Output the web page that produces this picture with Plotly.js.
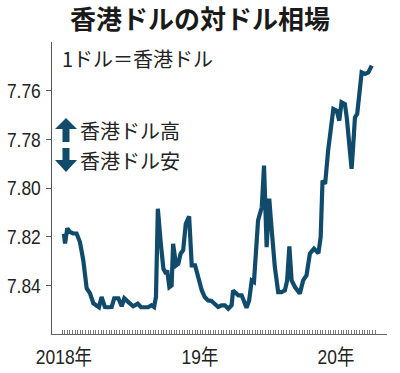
<!DOCTYPE html>
<html><head><meta charset="utf-8">
<script src="https://cdn.plot.ly/plotly-3.0.1.min.js"></script>
<style>html,body{margin:0;padding:0;background:#fff;}#chart{width:400px;height:373px;}</style>
</head><body><div id="chart"></div>
<script>
const dates = ['2018-01-01','2018-01-04','2018-01-10','2018-01-17','2018-01-26','2018-02-04','2018-02-13','2018-02-22','2018-03-03','2018-03-12','2018-03-21','2018-03-30','2018-04-05','2018-04-12','2018-04-21','2018-04-30','2018-05-09','2018-05-16','2018-05-27','2018-06-05','2018-06-12','2018-06-23','2018-07-06','2018-07-18','2018-07-27','2018-08-06','2018-08-15','2018-08-24','2018-08-31','2018-09-05','2018-09-10','2018-09-18','2018-09-25','2018-10-02','2018-10-05','2018-10-11','2018-10-17','2018-10-21','2018-10-29','2018-11-04','2018-11-10','2018-11-17','2018-11-24','2018-12-03','2018-12-10','2018-12-19','2018-12-27','2019-01-06','2019-01-14','2019-01-23','2019-02-01','2019-02-10','2019-02-19','2019-02-28','2019-03-09','2019-03-18','2019-03-27','2019-03-31','2019-04-08','2019-04-14','2019-04-23','2019-04-28','2019-05-06','2019-05-13','2019-05-20','2019-05-26','2019-05-31','2019-06-06','2019-06-16','2019-06-22','2019-06-29','2019-07-06','2019-07-12','2019-07-21','2019-07-30','2019-08-08','2019-08-17','2019-08-23','2019-08-29','2019-09-04','2019-09-13','2019-09-26','2019-10-05','2019-10-14','2019-10-23','2019-11-03','2019-11-15','2019-11-21','2019-11-26','2019-12-03','2019-12-11','2019-12-25','2020-01-03','2020-01-10','2020-01-16','2020-01-25','2020-01-30','2020-02-06','2020-02-12','2020-02-16','2020-02-21','2020-02-27','2020-03-04','2020-03-10','2020-03-19','2020-03-28','2020-04-06'];
const rates = [7.8188,7.8228,7.8166,7.8181,7.8187,7.8187,7.8222,7.8297,7.8412,7.8433,7.8474,7.8482,7.8490,7.8448,7.8489,7.8490,7.8489,7.8453,7.8453,7.8486,7.8453,7.8469,7.8486,7.8475,7.8490,7.8490,7.8490,7.8482,7.8489,7.8448,7.8085,7.8229,7.8332,7.8352,7.8338,7.8407,7.8400,7.8229,7.8318,7.8311,7.8270,7.8256,7.8147,7.8117,7.8318,7.8318,7.8366,7.8421,7.8448,7.8462,7.8464,7.8475,7.8489,7.8482,7.8482,7.8496,7.8482,7.8421,7.8434,7.8441,7.8441,7.8462,7.8492,7.8462,7.8380,7.8386,7.8243,7.8133,7.8079,7.7908,7.8243,7.8044,7.8161,7.8325,7.8428,7.8428,7.8421,7.8380,7.8240,7.8380,7.8407,7.8434,7.8380,7.8359,7.8270,7.8249,7.8268,7.8202,7.7969,7.7983,7.7846,7.7675,7.7682,7.7723,7.7648,7.7655,7.7710,7.7846,7.7921,7.7833,7.7710,7.7696,7.7600,7.7525,7.7531,7.7525,7.7497];

const xLabelDates = ['2018-01-01','2019-01-01','2020-01-01'];
const xLabels = ['2018年','19年','20年'];
const yTicks = [7.76,7.78,7.80,7.82,7.84];
const yLabels = ['7.76','7.78','7.80','7.82','7.84'];

// weekly axis tick marks (axis decoration only)
const weekTicks = [];
for (let t = Date.UTC(2017,11,27); t <= Date.UTC(2020,3,15); t += 7*86400000) {
  weekTicks.push(new Date(t).toISOString().slice(0,10));
}

const W=400,H=373,L=52,R=13,T=42,B=39;
const pw=W-L-R, ph=H-T-B;
function px(x){return ((x-L)/pw).toFixed(4);}
function py(y){return ((H-B-y)/ph).toFixed(4);}
function pathFrom(pts){return 'M '+pts.map(p=>px(p[0])+' '+py(p[1])).join(' L ')+' Z';}
const up = [[66,118],[77,129],[69.5,129],[69.5,142],[62.5,142],[62.5,129],[55,129]];
const dn = [[66,172],[77,160],[69.5,160],[69.5,148],[62.5,148],[62.5,160],[55,160]];
const lineCol = '#104b6c';
const tickFam = '"Liberation Sans", "Noto Sans CJK JP", sans-serif';
const jp = '"Noto Sans CJK JP", sans-serif';

const trace = {x: dates, y: rates, type:'scatter', mode:'lines',
  line:{color:lineCol, width:4.2}, hoverinfo:'skip'};

const layout = {
  width:W, height:H, margin:{l:L,r:R,t:T,b:B,pad:0},
  paper_bgcolor:'#fff', plot_bgcolor:'#fff', showlegend:false,
  title:{text:'<b>香港ドルの対ドル相場</b>', x:0.5, xanchor:'center', y:1-20/H, yanchor:'middle',
    font:{family:jp, size:26, color:'#1a1a1a'}},
  xaxis:{type:'date', range:['2017-11-30','2020-05-17'], tickmode:'array', tickvals:xLabelDates, ticktext:xLabels,
    ticks:'', showgrid:false, zeroline:false,
    minor:{tickmode:'array', tickvals:weekTicks, ticks:'inside', ticklen:4, tickwidth:1, tickcolor:'#777', showgrid:false},
    showline:true, linecolor:'#666', linewidth:1, tickangle:0, ticklabelstandoff:4,
    tickfont:{family:tickFam, size:21, color:'#222'}},
  yaxis:{range:[7.86,7.74], tickmode:'array', tickvals:yTicks, ticktext:yLabels,
    ticks:'outside', ticklen:5, tickwidth:1, tickcolor:'#555', showgrid:false, zeroline:false,
    showline:true, linecolor:'#555', linewidth:1, ticklabelstandoff:1,
    tickfont:{family:tickFam, size:21, color:'#222'}},
  shapes:[
    {type:'path', xref:'paper', yref:'paper', path:pathFrom(up), fillcolor:lineCol, line:{width:0}},
    {type:'path', xref:'paper', yref:'paper', path:pathFrom(dn), fillcolor:lineCol, line:{width:0}}
  ],
  annotations:[
    {xref:'paper', yref:'paper', x:(60-L)/pw, y:(H-B-58)/ph, xanchor:'left', yanchor:'middle',
     text:'1ドル＝香港ドル', showarrow:false, font:{family:jp, size:20, color:'#222'}},
    {xref:'paper', yref:'paper', x:(78-L)/pw, y:(H-B-130)/ph, xanchor:'left', yanchor:'middle',
     text:'香港ドル高', showarrow:false, font:{family:jp, size:20, color:'#222'}},
    {xref:'paper', yref:'paper', x:(78-L)/pw, y:(H-B-160)/ph, xanchor:'left', yanchor:'middle',
     text:'香港ドル安', showarrow:false, font:{family:jp, size:20, color:'#222'}}
  ]
};
Plotly.newPlot('chart',[trace],layout,{displayModeBar:false, staticPlot:true}).then(gd=>{
  // condense tick label glyphs (reference uses a narrow typeface)
  gd.querySelectorAll('.xtick text, .ytick text').forEach(el=>{
    const w = el.getComputedTextLength();
    if (w > 0) {
      el.setAttribute('textLength', (w*0.83).toFixed(1));
      el.setAttribute('lengthAdjust', 'spacingAndGlyphs');
    }
  });
});
</script></body></html>
